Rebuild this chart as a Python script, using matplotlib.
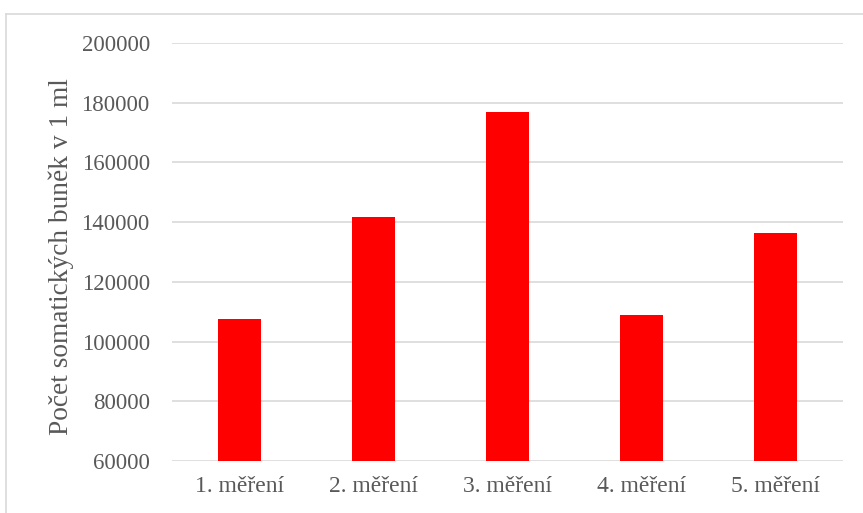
import matplotlib
matplotlib.use('Agg')
import matplotlib.pyplot as plt
from matplotlib.lines import Line2D

# ---- data ----
categories = ['1. měření', '2. měření', '3. měření', '4. měření', '5. měření']
cell_counts = [107400, 141600, 177000, 108900, 136400]
y_ticks = [60000, 80000, 100000, 120000, 140000, 160000, 180000, 200000]

TEXT = '#595959'
GRID = '#d9d9d9'

plt.rcParams['font.family'] = ['Liberation Serif', 'DejaVu Serif']

fig = plt.figure(figsize=(8.63, 5.13), dpi=100)
ax = fig.add_axes([0.1993, 0.1014, 0.7775, 0.8148])

x = range(len(categories))
ax.bar(x, cell_counts, width=0.32, color='#ff0000', zorder=3)

ax.set_ylim(y_ticks[0], y_ticks[-1])
ax.set_xlim(-0.5, len(categories) - 0.5)
ax.set_yticks(y_ticks)
ax.set_yticklabels([str(v) for v in y_ticks])
ax.set_xticks(list(x))
ax.set_xticklabels(categories)

ax.grid(axis='y', color=GRID, lw=1.2, zorder=0)
for s in ax.spines.values():
    s.set_visible(False)
ax.tick_params(length=0, colors=TEXT)
ax.tick_params(axis='y', labelsize=16.5, pad=16)
ax.tick_params(axis='x', labelsize=17, pad=11)

ax.set_ylabel('Počet somatických buněk v 1 ml', fontsize=19.7, color=TEXT)
ax.yaxis.set_label_coords(-0.146, 0.49)

# chart frame (top and left edges visible)
fig.add_artist(Line2D([6 / 863, 6 / 863], [0, 1 - 14 / 513], transform=fig.transFigure,
                      color=GRID, lw=1.2))
fig.add_artist(Line2D([6 / 863, 1], [1 - 14 / 513, 1 - 14 / 513], transform=fig.transFigure,
                      color=GRID, lw=1.2))

fig.savefig('out.png', dpi=100)
